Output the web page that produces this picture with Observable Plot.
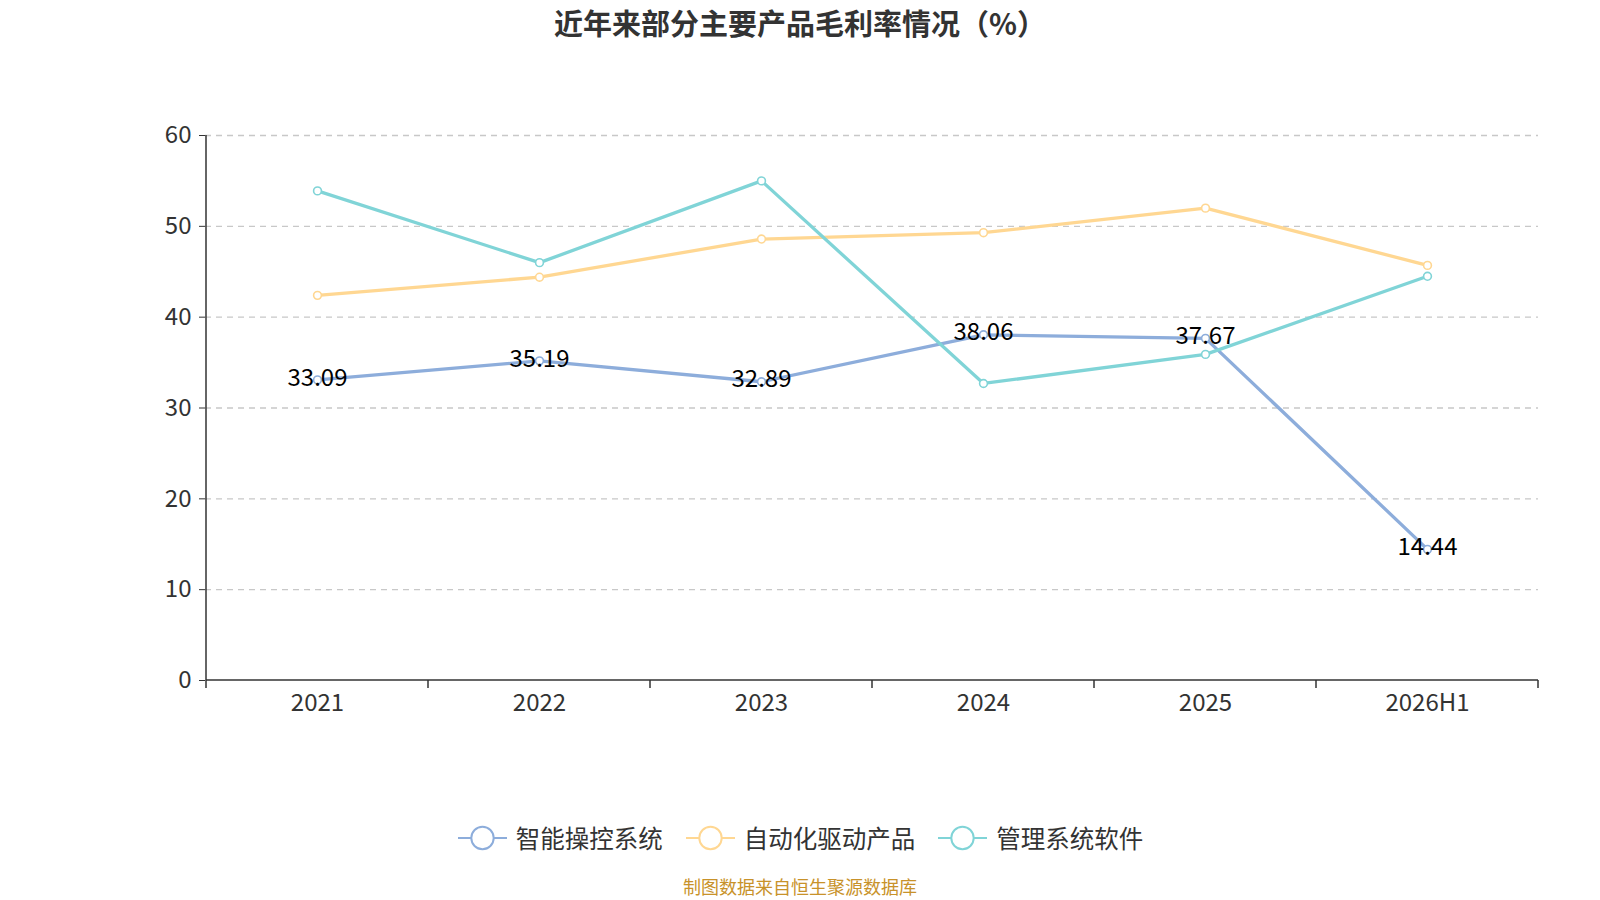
<!DOCTYPE html>
<html>
<head>
<meta charset="utf-8">
<script src="https://cdn.jsdelivr.net/npm/d3@7"></script>
<script src="https://cdn.jsdelivr.net/npm/@observablehq/plot@0.6"></script>
<style>
  html, body { margin: 0; padding: 0; width: 1600px; height: 900px; overflow: hidden; background: #fff; font-family: "Noto Sans CJK SC", "Noto Sans", sans-serif; }
  #wrap { position: relative; width: 1600px; height: 900px; overflow: hidden; }
  #title { position: absolute; top: 2px; left: 0; width: 1600px; text-align: center; font-size: 29px; line-height: 40px; font-weight: bold; color: #333; }
  #chart { position: absolute; top: 0; left: 0; width: 1600px; height: 780px; }
  #chart svg { display: block; }
  #legend { position: absolute; top: 820px; left: 0; width: 1600px; display: flex; justify-content: center; gap: 22px; font-size: 24.5px; color: #333; }
  #legend .item { display: flex; align-items: center; gap: 8px; }
  #caption { position: absolute; top: 876px; left: 0; width: 1600px; text-align: center; font-size: 18px; line-height: 20px; color: #C8922A; }
</style>
</head>
<body>
<div id="wrap">
  <div id="chart"></div>
  <div id="title">近年来部分主要产品毛利率情况（%）</div>
  <div id="legend"></div>
  <div id="caption">制图数据来自恒生聚源数据库</div>
</div>
<script>
const years = ["2021", "2022", "2023", "2024", "2025", "2026H1"];
const seriesNames = ["智能操控系统", "自动化驱动产品", "管理系统软件"];
const seriesColors = ["#8DADDB", "#FFD792", "#80D4D7"];
const s1 = [33.09, 35.19, 32.89, 38.06, 37.67, 14.44];
const s2 = [42.4, 44.4, 48.6, 49.3, 52.0, 45.7];
const s3 = [53.9, 46.0, 55.0, 32.7, 35.9, 44.5];
const yTicks = [0, 10, 20, 30, 40, 50, 60];

const allSeries = [s1, s2, s3];
const data = [];
allSeries.forEach((vals, si) => vals.forEach((v, i) => data.push({year: years[i], value: v, series: seriesNames[si]})));
const labelData = data.filter(d => d.series === seriesNames[0]);

const W = 1600, H = 780;
const chart = Plot.plot({
  width: W, height: H,
  marginTop: 135, marginBottom: H - 680, marginLeft: 205, marginRight: W - 1538,
  style: { fontFamily: '"Noto Sans CJK SC", "Noto Sans", sans-serif', background: "transparent" },
  x: { type: "point", domain: years, padding: 0.5, label: null },
  y: { domain: [0, 60], ticks: yTicks, label: null },
  color: { domain: seriesNames, range: seriesColors },
  marks: [
    Plot.gridY(yTicks.filter(t => t > 0), { stroke: "#c8c8c8", strokeOpacity: 1, strokeDasharray: "6,5", strokeWidth: 1.3 }),
    Plot.axisY({ ticks: yTicks, tickSize: 6, tickPadding: 8, fontSize: 24, color: "#333", stroke: "#333" }),
    Plot.axisX({ tickSize: 0, tickPadding: 13, fontSize: 24, color: "#333" }),
    Plot.line(data, { x: "year", y: "value", z: "series", stroke: "series", strokeWidth: 3.3 }),
    Plot.dot(data, { x: "year", y: "value", stroke: "series", fill: "white", r: 3.9, strokeWidth: 1.6 }),
    Plot.text(labelData, { x: "year", y: "value", text: d => d.value.toFixed(2), fontSize: 24, fill: "#000", dy: -2 })
  ]
});
document.getElementById("chart").appendChild(chart);

// axis lines and category boundary ticks
const xs = chart.scale("x"), ys = chart.scale("y");
const svg = d3.select(chart);
const step = xs.apply(years[1]) - xs.apply(years[0]);
const x0 = xs.apply(years[0]) - step / 2;
const x1 = xs.apply(years[years.length - 1]) + step / 2;
const yb = ys.apply(0), yt = ys.apply(60);
const g = svg.append("g").attr("stroke", "#333").attr("stroke-width", 1.5);
g.append("line").attr("x1", x0).attr("x2", x1).attr("y1", yb).attr("y2", yb);
g.append("line").attr("x1", x0).attr("x2", x0).attr("y1", yt).attr("y2", yb);
for (let i = 0; i <= years.length; i++) {
  const x = x0 + i * step;
  g.append("line").attr("x1", x).attr("x2", x).attr("y1", yb).attr("y2", yb + 8);
}
svg.selectAll("g[aria-label='line'], g[aria-label='dot'], g[aria-label='text']").raise();

// legend
const legend = d3.select("#legend");
seriesNames.forEach((n, i) => {
  const item = legend.append("div").attr("class", "item");
  const s = item.append("svg").attr("width", 51).attr("height", 30);
  s.append("line").attr("x1", 1).attr("x2", 50).attr("y1", 15).attr("y2", 15).attr("stroke", seriesColors[i]).attr("stroke-width", 2);
  s.append("circle").attr("cx", 25.5).attr("cy", 15).attr("r", 11.2).attr("fill", "white").attr("stroke", seriesColors[i]).attr("stroke-width", 2);
  item.append("span").text(n);
});
</script>
</body>
</html>
